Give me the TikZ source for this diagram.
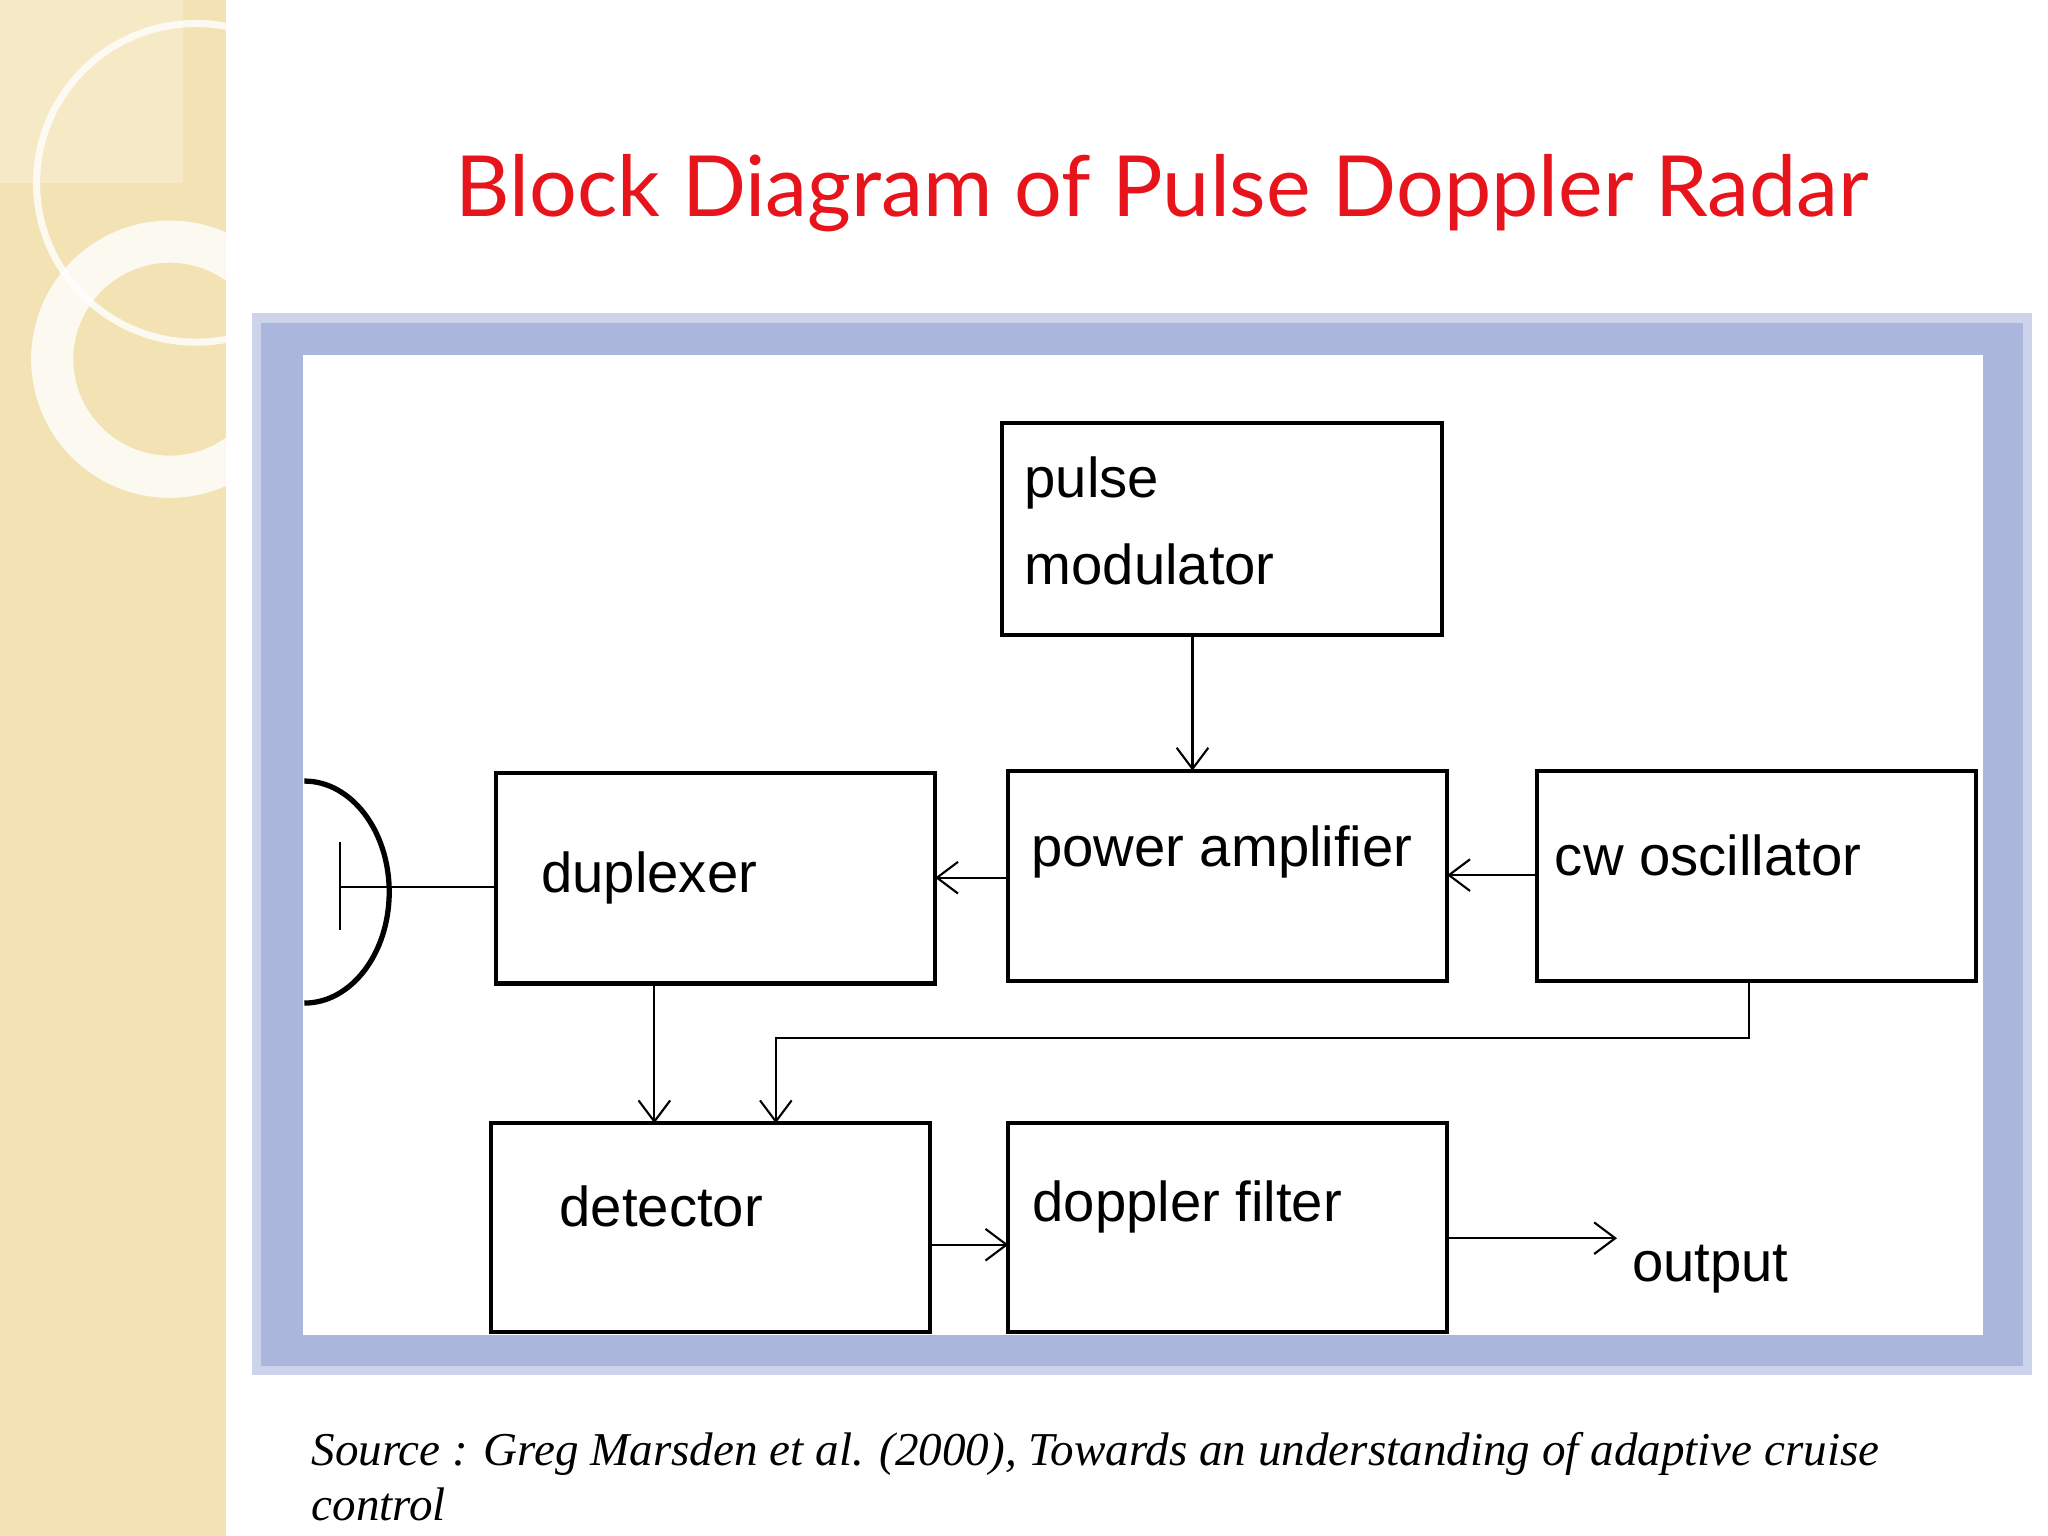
\documentclass[tikz,border=0pt]{standalone}
\usepackage{fontspec}
\newfontfamily\arialf{Liberation Sans}
\newfontfamily\titlef{Lato}
\newfontfamily\serf{Liberation Serif}
\usetikzlibrary{arrows.meta}
\definecolor{beige}{HTML}{F2E2B4}
\definecolor{frameblue}{HTML}{AAB6DC}
\definecolor{titlered}{HTML}{E8141C}
\begin{document}
\begin{tikzpicture}[x=0.013061cm,y=-0.013061cm,
  lbl/.style={font=\arialf\fontsize{16}{19}\selectfont,anchor=west,inner sep=0pt},
  src/.style={font=\serf\itshape\fontsize{13.4}{16}\selectfont,anchor=base west,inner sep=0pt},
  con/.style={line width=0.6pt},
  arr/.style={con,-{Straight Barb[length=6pt,width=9pt]}}]
\useasboundingbox (0,0) rectangle (1568,1176);
\fill[white] (0,0) rectangle (1568,1176);
\fill[beige] (0,0) rectangle (173,1176);
\begin{scope}
\clip (0,0) rectangle (173,1176);
\fill[white,opacity=0.25] (0,0) rectangle (140,140);
\draw[white,opacity=0.8,line width=2pt] (150,140) circle (122);
\draw[white,opacity=0.8,line width=12pt] (130,275) circle (90);
\end{scope}
\node[font=\titlef\fontsize{24}{28}\selectfont,text=titlered] (title) at (890,148) {Block Diagram of Pulse Doppler Radar};
\fill[frameblue!60] (193,240) rectangle (1556,1053);
\fill[frameblue] (200,247) rectangle (1549,1046);
\fill[white] (232,272) rectangle (1518,1022);
% boxes
\draw[line width=1.2pt] (767,324) rectangle (1104,486);
\coordinate (pm) at (913,486);
\node[lbl] (pmt1) at (784,370) {pulse};
\node[lbl] (pmt2) at (784,432) {modulator};
\draw[line width=1.2pt] (380,592) rectangle (716,753);
\node[lbl] (dup) at (414,672) {duplexer};
\draw[line width=1.2pt] (772,590) rectangle (1108,751);
\node[lbl] (pa) at (789,652) {power amplifier};
\draw[line width=1.2pt] (1177,590) rectangle (1513,751);
\node[lbl] (cw) at (1190,655) {cw oscillator};
\draw[line width=1.2pt] (376,860) rectangle (712,1020);
\node[lbl] (det) at (428,924) {detector};
\draw[line width=1.2pt] (772,860) rectangle (1108,1020);
\node[lbl] (df) at (790,924) {doppler filter};
\node[lbl] (out) at (1249,972) {output};
% connectors
\coordinate (paT) at (913,590);
\coordinate (paL) at (772,672); \coordinate (dupR) at (716,672);
\coordinate (cwL) at (1177,670); \coordinate (paR) at (1108,670);
\coordinate (dupB) at (501,753); \coordinate (detT1) at (501,860);
\coordinate (cwB) at (1339,751); \coordinate (detT2) at (594,860);
\coordinate (detR) at (712,953); \coordinate (dfL) at (772,953);
\coordinate (dfR) at (1108,948); \coordinate (outE) at (1238,948);
\draw[arr] (pm) -- (paT);
\draw[arr] (paL) -- (dupR);
\draw[arr] (cwL) -- (paR);
\draw[arr] (dupB) -- (detT1);
\draw[arr] (cwB) -- (1339,795) -- (594,795) -- (detT2);
\draw[arr] (detR) -- (dfL);
\draw[arr] (dfR) -- (outE);
% antenna
\coordinate (ant) at (260,679); \coordinate (dupL) at (380,679);
\draw[line width=1.5pt] (233,598) arc[start angle=-90,end angle=90,x radius=65,y radius=85];
\draw[con] (ant) -- (dupL);
\draw[con] (260,645) -- (260,712);
\node[src] (src) at (238,1122) {Source : Greg Marsden et al. (2000), Towards an understanding of adaptive cruise};
\node[src] (src2) at (238,1164) {control};
\end{tikzpicture}
\end{document}
